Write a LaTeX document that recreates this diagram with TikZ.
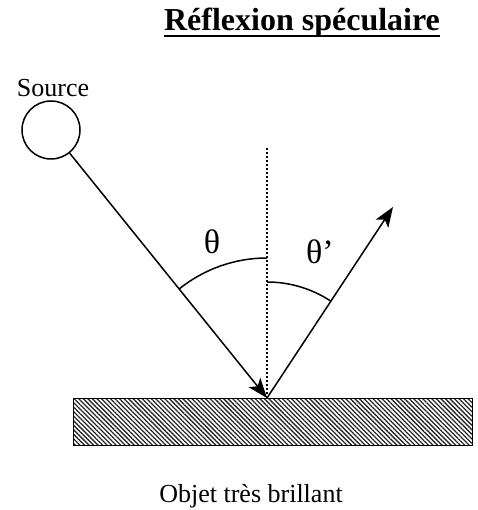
\documentclass[tikz,border=0pt]{standalone}
\usepackage{fontspec}
\setmainfont{Liberation Serif}
\usetikzlibrary{positioning, calc, arrows.meta, patterns.meta}
\tikzset{
	labeltext/.style={font=\fontsize{26}{30}\selectfont, inner sep=0pt}
}
\tikzset{
	ray/.style={line width=1.5pt, -{Stealth[length=20pt, width=15pt, inset=5pt]}}
}

\begin{document}
\begin{tikzpicture}[x=1pt, y=1pt, shadedobj/.style={draw, line width=1.3pt, pattern={Lines[angle=-45, distance=3.2pt, line width=1.3pt]}, pattern color=black!85, minimum width=399pt, minimum height=47pt, inner sep=0pt}]
      \useasboundingbox (0,0) rectangle (477,510);
      \node[font=\fontsize{32}{36}\selectfont\bfseries, inner sep=0pt, anchor=base] (title) at (302,479) {Réflexion spéculaire};
      \draw[line width=2pt] ([yshift=-5.5pt]title.base west) -- ([yshift=-5.5pt]title.base east);

      \node[draw, circle, line width=1.5pt, minimum size=58pt, inner sep=0pt] (src) at (51,380) {};
      \node[labeltext, anchor=base] (srclabel) at (53,413) {Source};

      \node[shadedobj, anchor=north west] (obj) at (73,112) {};
      \node[labeltext, anchor=base] (objlabel) at (251,7) {Objet très brillant};

      \coordinate (hit) at (267,112);
      \coordinate (refl) at (393,303);
      \coordinate (nrm) at (267,362);

      % normal to the surface
      \draw[line width=1.2pt, dash pattern=on 1.5pt off 2.5pt] (hit) -- (nrm);
      % incident and reflected rays
      \draw[ray] (src) -- (hit);
      \draw[ray] (hit) -- (refl);
      % angles
      \draw[line width=1.5pt] ([shift={(90:140)}]hit) arc[start angle=90, end angle=128.9, radius=140];
      \draw[line width=1.5pt] ([shift={(90:116)}]hit) arc[start angle=90, end angle=56.6, radius=116];
      \node[labeltext, font=\fontsize{34}{38}\selectfont] (th) at (212,268) {θ};
      \node[labeltext, font=\fontsize{34}{38}\selectfont] (thp) at (320,258) {θ’};
    \end{tikzpicture}
\end{document}
